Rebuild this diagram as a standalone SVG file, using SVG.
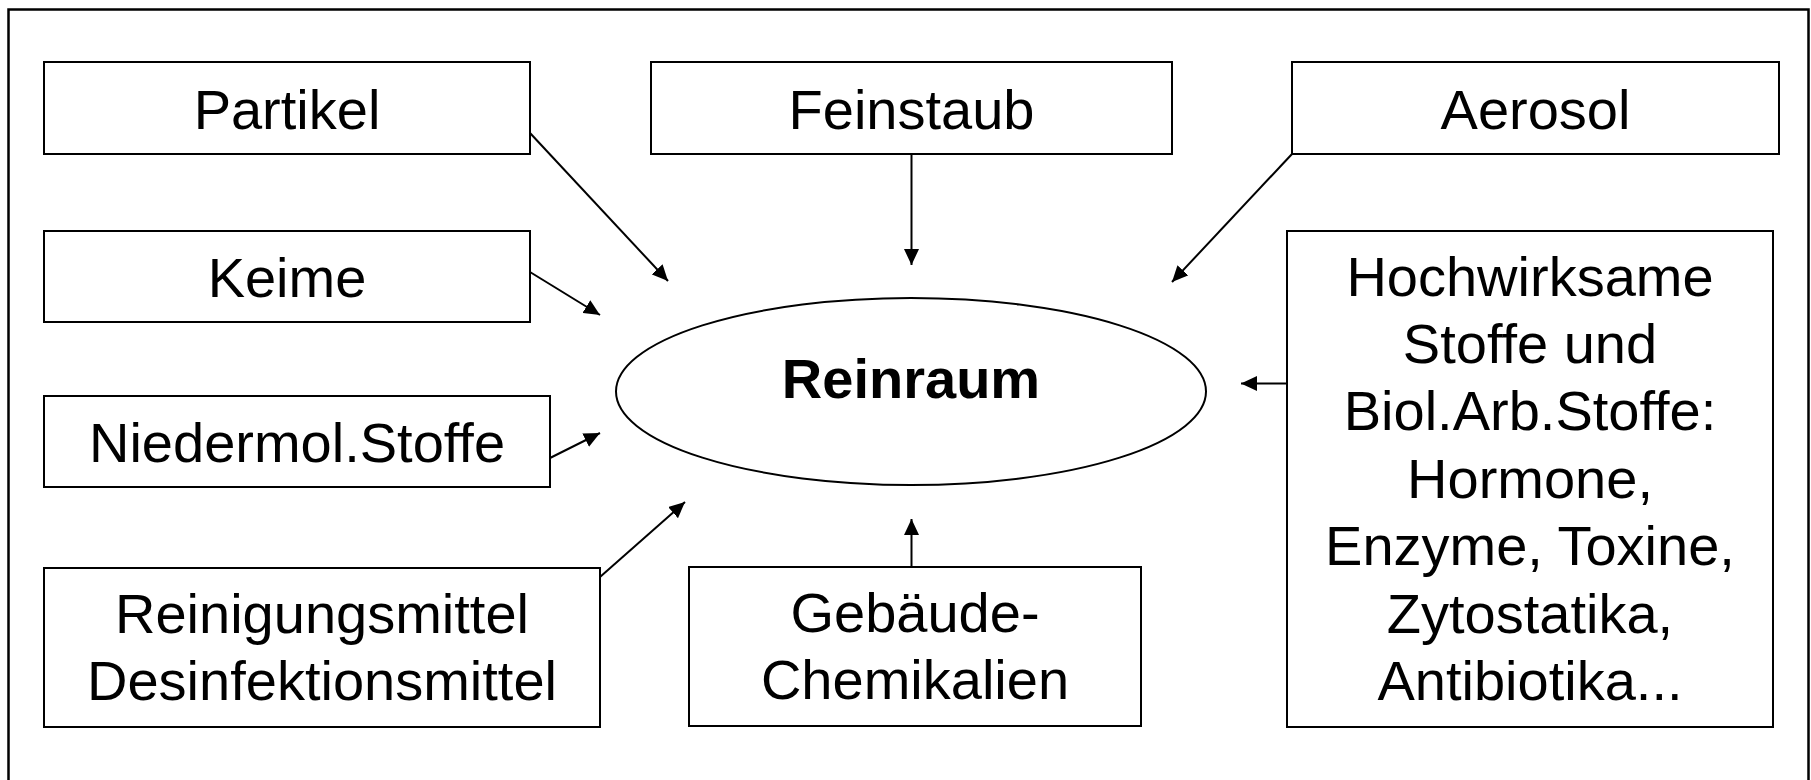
<svg xmlns="http://www.w3.org/2000/svg" width="1811" height="780" viewBox="0 0 1811 780">
  <style>
    .box { fill: #ffffff; stroke: #000000; stroke-width: 2; }
    .frame { fill: none; stroke: #000000; stroke-width: 2.5; }
    .lbl { font-family: "Liberation Sans", Arial, sans-serif; font-size: 56px; fill: #000000; text-anchor: middle; }
    .bold { font-weight: bold; }
    .conn { stroke: #000000; stroke-width: 2; fill: none; marker-end: url(#arrow); }
  </style>
  <defs>
    <marker id="arrow" markerUnits="userSpaceOnUse" markerWidth="16" markerHeight="15" refX="16" refY="7.5" orient="auto">
      <path d="M0,0 L16,7.5 L0,15 z" fill="#000000"/>
    </marker>
  </defs>

  <rect width="1811" height="780" fill="#ffffff"/>
  <!-- outer frame (open at the bottom edge of the canvas) -->
  <rect class="frame" x="8.5" y="9.5" width="1800" height="800"/>

  <!-- connectors -->
  <g id="connectors">
    <line class="conn" x1="530" y1="133" x2="668" y2="281"/>
    <line class="conn" x1="911.5" y1="154" x2="911.5" y2="265"/>
    <line class="conn" x1="1292" y1="154" x2="1172" y2="282"/>
    <line class="conn" x1="530" y1="272" x2="600" y2="315"/>
    <line class="conn" x1="550" y1="458" x2="600" y2="433"/>
    <line class="conn" x1="600" y1="577" x2="685" y2="502"/>
    <line class="conn" x1="911.5" y1="567" x2="911.5" y2="519"/>
    <line class="conn" x1="1287" y1="383.5" x2="1241" y2="383.5"/>
  </g>

  <g id="reinraum">
    <ellipse class="box" cx="911" cy="391.5" rx="295" ry="93.5"/>
    <text class="lbl bold" x="911" y="398">Reinraum</text>
  </g>

  <g id="partikel">
    <rect class="box" x="44" y="62" width="486" height="92"/>
    <text class="lbl" x="287" y="128.5">Partikel</text>
  </g>

  <g id="feinstaub">
    <rect class="box" x="651" y="62" width="521" height="92"/>
    <text class="lbl" x="911.5" y="128.5">Feinstaub</text>
  </g>

  <g id="aerosol">
    <rect class="box" x="1292" y="62" width="487" height="92"/>
    <text class="lbl" x="1535.5" y="128.5">Aerosol</text>
  </g>

  <g id="keime">
    <rect class="box" x="44" y="231" width="486" height="91"/>
    <text class="lbl" x="287" y="296.5">Keime</text>
  </g>

  <g id="niedermol">
    <rect class="box" x="44" y="396" width="506" height="91"/>
    <text class="lbl" x="297" y="461.5">Niedermol.Stoffe</text>
  </g>

  <g id="reinigungsmittel">
    <rect class="box" x="44" y="568" width="556" height="159"/>
    <text class="lbl" x="322" y="632.5">Reinigungsmittel</text>
    <text class="lbl" x="322" y="700">Desinfektionsmittel</text>
  </g>

  <g id="gebaeudechemikalien">
    <rect class="box" x="689" y="567" width="452" height="159"/>
    <text class="lbl" x="915" y="631.5">Gebäude-</text>
    <text class="lbl" x="915" y="699">Chemikalien</text>
  </g>

  <g id="hochwirksame">
    <rect class="box" x="1287" y="231" width="486" height="496"/>
    <text class="lbl" x="1530" y="295.5">Hochwirksame</text>
    <text class="lbl" x="1530" y="362.5">Stoffe und</text>
    <text class="lbl" x="1530" y="430">Biol.Arb.Stoffe:</text>
    <text class="lbl" x="1530" y="497.5">Hormone,</text>
    <text class="lbl" x="1530" y="565">Enzyme, Toxine,</text>
    <text class="lbl" x="1530" y="632.5">Zytostatika,</text>
    <text class="lbl" x="1530" y="700">Antibiotika...</text>
  </g>
</svg>
